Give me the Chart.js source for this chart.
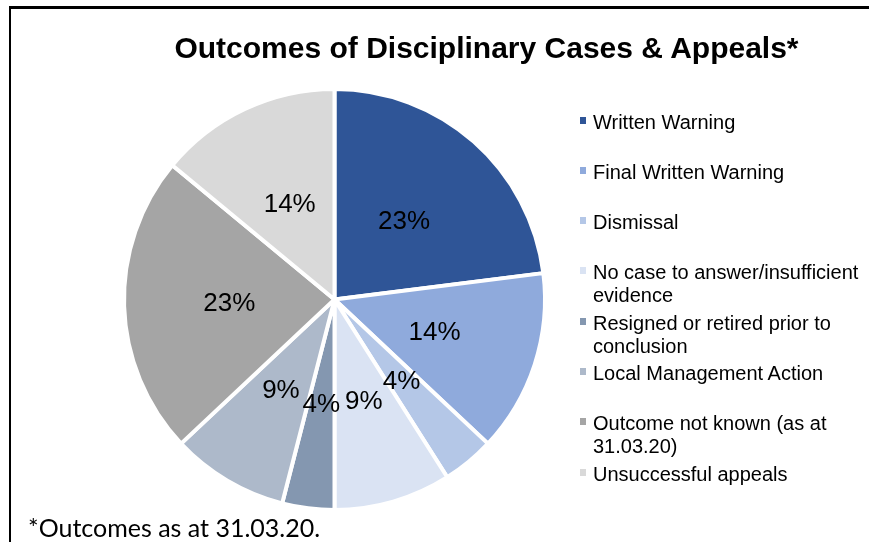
<!DOCTYPE html>
<html>
<head>
<meta charset="utf-8">
<script src="https://cdn.jsdelivr.net/npm/chart.js@4"></script>
<style>
  body { margin: 0; background: #fff; }
  #wrap { position: relative; width: 869px; height: 542px; overflow: hidden; font-family: "Liberation Sans", Arial, sans-serif; }
  #frame { position: absolute; left: 9px; top: 6px; width: 900px; height: 600px; border-top: 3px solid #000; border-left: 2px solid #000; }
  #title { position: absolute; left: 0; width: 973px; top: 33px; line-height: 30px; text-align: center; font-weight: bold; font-size: 30px; color: #000; }
  #legend { position: absolute; left: 580px; top: 111px; font-size: 20px; color: #000; }
  .item { position: absolute; left: 0; width: 290px; line-height: 23px; white-space: nowrap; }
  .item i { position: absolute; left: 0; top: 6px; width: 6px; height: 7px; }
  .item span { display: block; margin-left: 13px; }
  #note { position: absolute; left: 28px; top: 512px; line-height: 30px; font-family: Lato, "Open Sans", sans-serif; font-size: 25px; color: #000; }
  canvas { position: absolute; left: 0; top: 0; }
</style>
</head>
<body>
<div id="wrap">
  <div id="frame"></div>
  <canvas id="pie-chart" width="869" height="542"></canvas>
  <div id="title">Outcomes of Disciplinary Cases &amp; Appeals*</div>
  <div id="legend"></div>
  <div id="note">*Outcomes as at 31.03.20.</div>
</div>
<script>
// Chart data
const categories = [
  "Written Warning",
  "Final Written Warning",
  "Dismissal",
  ["No case to answer/insufficient", "evidence"],
  ["Resigned or retired prior to", "conclusion"],
  "Local Management Action",
  ["Outcome not known (as at", "31.03.20)"],
  "Unsuccessful appeals",
];
const percentages = [23, 14, 4, 9, 4, 9, 23, 14];
const sliceColors = ["#2F5597", "#8FAADC", "#B4C7E7", "#DAE3F3", "#8497B0", "#ADB9CA", "#A5A5A5", "#D9D9D9"];

// Build the legend by hand so long labels wrap like the original
const legendTops = [0, 50, 100, 150, 201, 251, 301, 352];
const legendEl = document.getElementById("legend");
categories.forEach((name, i) => {
  const row = document.createElement("div");
  row.className = "item";
  row.style.top = legendTops[i] + "px";
  const mark = document.createElement("i");
  mark.style.background = sliceColors[i];
  row.appendChild(mark);
  const lines = Array.isArray(name) ? name : [name];
  lines.forEach((line) => {
    const span = document.createElement("span");
    span.textContent = line;
    row.appendChild(span);
  });
  legendEl.appendChild(row);
});

// Percentage labels in the middle of each slice
const sliceLabels = {
  id: "sliceLabels",
  afterDatasetsDraw(chart) {
    const ctx = chart.ctx;
    const meta = chart.getDatasetMeta(0);
    ctx.save();
    ctx.font = '26px "Liberation Sans", Arial, sans-serif';
    ctx.fillStyle = "#000";
    ctx.textAlign = "center";
    ctx.textBaseline = "middle";
    meta.data.forEach((arc, i) => {
      const p = arc.getCenterPoint();
      ctx.fillText(percentages[i] + "%", p.x, p.y + 1);
    });
    ctx.restore();
  },
};

const ctxPie = document.getElementById("pie-chart").getContext("2d");
const pieChart = new Chart(ctxPie, {
  type: "pie",
  data: {
    labels: categories.map((c) => (Array.isArray(c) ? c.join(" ") : c)),
    datasets: [
      {
        data: percentages,
        backgroundColor: sliceColors,
        borderColor: "#fff",
        borderWidth: 4,
      },
    ],
  },
  options: {
    responsive: false,
    animation: false,
    layout: { padding: { left: 122, right: 322, top: 86, bottom: 29 } },
    plugins: {
      legend: { display: false },
      tooltip: { enabled: false },
    },
  },
  plugins: [sliceLabels],
});
</script>
</body>
</html>
